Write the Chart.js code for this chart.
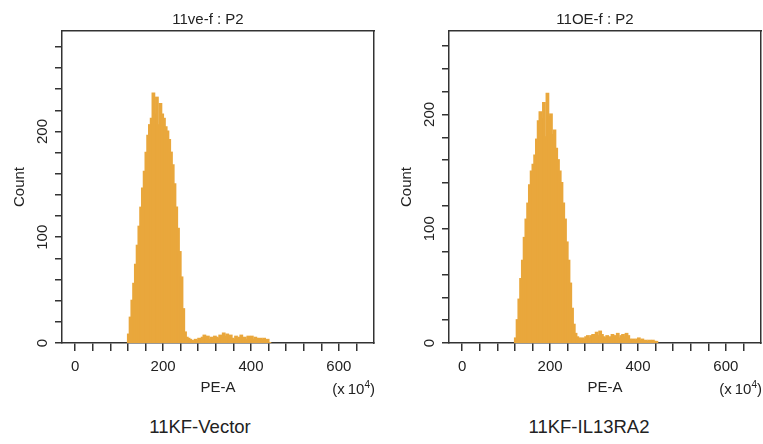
<!DOCTYPE html>
<html>
<head>
<meta charset="utf-8">
<script src="https://cdn.jsdelivr.net/npm/chart.js@4.4.1/dist/chart.umd.min.js"></script>
<style>
    body { margin: 0; background: #fff; font-family: "Liberation Sans", Arial, sans-serif; color: #222; }
    #page { position: relative; width: 763px; height: 444px; overflow: hidden; }
    .panel { position: absolute; top: 0; height: 400px; }
    .lbl { position: absolute; transform: translate(-50%, -50%); white-space: nowrap; }
    .unit { position: absolute; transform: translate(-100%, -50%); font-size: 15px; white-space: nowrap; }
    .unit sup { font-size: 10px; }
</style>
</head>
<body>
<div id="page">
    <div class="panel" style="left:0;width:381px"><canvas id="vectorChart"></canvas></div>
    <div class="panel" style="left:381px;width:382px"><canvas id="oeChart"></canvas></div>

    <div class="lbl" style="left:208px;top:18px;font-size:15px">11ve-f : P2</div>
    <div class="lbl" style="left:595px;top:18px;font-size:15px">11OE-f : P2</div>
    <div class="unit" style="left:375px;top:388px">(x&thinsp;10<sup>4</sup>)</div>
    <div class="unit" style="left:762px;top:388px">(x&thinsp;10<sup>4</sup>)</div>
    <div class="lbl" style="left:200px;top:427px;font-size:18.5px">11KF-Vector</div>
    <div class="lbl" style="left:589px;top:427px;font-size:18.5px">11KF-IL13RA2</div>
</div>

<script>
// histogram bin centres (PE-A, x10^4), bin width 4
const binCenters = [122, 126, 130, 134, 138, 142, 146, 150, 154, 158, 162, 166, 170, 174, 178, 182,
    186, 190, 194, 198, 202, 206, 210, 214, 218, 222, 226, 230, 234, 238, 242, 246, 250, 254, 258,
    262, 266, 270, 274, 278, 282, 286, 290, 294, 298, 302, 306, 310, 314, 318, 322, 326, 330, 334,
    338, 342, 346, 350, 354, 358, 362, 366, 370, 374, 378, 382, 386, 390, 394, 398, 402, 406, 410,
    414, 418, 422, 426, 430, 434, 438, 442];

// counts per bin
const vectorCounts = [8, 24, 40, 56, 74, 92, 110, 128, 146, 162, 180, 196, 206, 212, 236, 216,
    232, 206, 226, 216, 212, 204, 200, 192, 180, 168, 150, 128, 108, 86, 62, 32, 10, 5, 4,
    3, 2, 1, 3, 2, 4, 3, 5, 7, 4, 6, 3, 5, 4, 6, 5, 4, 7, 5,
    9, 6, 8, 5, 7, 4, 3, 6, 4, 5, 7, 4, 5, 3, 6, 4, 6, 3, 5,
    4, 3, 4, 3, 4, 2, 3, 0];

const oeCounts = [4, 20, 38, 56, 72, 92, 108, 122, 138, 150, 156, 164, 178, 194, 202, 196,
    210, 180, 218, 198, 200, 182, 186, 170, 160, 150, 140, 122, 108, 88, 72, 52, 30, 16, 8,
    5, 4, 3, 4, 3, 5, 6, 4, 6, 7, 5, 9, 6, 10, 7, 5, 4, 6, 4,
    5, 7, 6, 5, 8, 4, 6, 7, 5, 8, 6, 3, 2, 3, 2, 3, 4, 2, 3,
    1, 2, 1, 2, 1, 2, 1, 1];

// axis ticks
const xTicks = [0, 40, 80, 120, 160, 200, 240, 280, 320, 360, 400, 440, 480, 520, 560, 600, 640];
const xLabels = [0, 200, 400, 600];
const yTicksVector = [0, 20, 40, 60, 80, 100, 120, 140, 160, 180, 200, 220, 240, 260, 280];
const yTicksOE = [0, 20, 40, 60, 80, 100, 120, 140, 160, 180, 200, 220, 240, 260];
const yLabels = [0, 100, 200];

const ORANGE = '#E9A73C';
const AXIS = '#333';
const TEXT = '#222';
const FONT = "'Liberation Sans', Arial, sans-serif";

function makeHistogram(canvasId, counts, yMax, yTicks, padLeft, padRight) {
    const ctx = document.getElementById(canvasId).getContext('2d');
    const points = binCenters.map((x, i) => ({ x: x, y: counts[i] }));

    const frame = () => ({
        display: true,
        ticks: { display: false },
        grid: { display: false },
        border: { display: true, color: AXIS, width: 1.5 }
    });

    new Chart(ctx, {
        type: 'bar',
        data: {
            datasets: [{
                data: points,
                backgroundColor: ORANGE,
                borderColor: ORANGE,
                borderWidth: 0,
                barPercentage: 1,
                categoryPercentage: 1,
                inflateAmount: 1
            }]
        },
        options: {
            responsive: true,
            maintainAspectRatio: false,
            animation: false,
            layout: { padding: { top: 31, left: padLeft, right: padRight, bottom: 0 } },
            plugins: {
                legend: { display: false },
                tooltip: { enabled: false }
            },
            scales: {
                x: {
                    type: 'linear',
                    offset: false,
                    min: -30,
                    max: 680,
                    afterBuildTicks: s => { s.ticks = xTicks.map(v => ({ value: v })); },
                    afterFit: s => { s.height = 57; },
                    grid: { drawOnChartArea: false, offset: false, tickLength: 8, color: AXIS, lineWidth: 1.5 },
                    border: { display: true, color: AXIS, width: 1.5 },
                    ticks: {
                        autoSkip: false,
                        maxRotation: 0,
                        padding: 7,
                        color: TEXT,
                        font: { size: 15, family: FONT },
                        callback: v => xLabels.includes(v) ? String(v) : ''
                    },
                    title: {
                        display: true,
                        text: 'PE-A',
                        color: TEXT,
                        font: { size: 15, family: FONT },
                        padding: { top: 0, bottom: 3 }
                    }
                },
                y: {
                    type: 'linear',
                    min: 0,
                    max: yMax,
                    afterBuildTicks: s => { s.ticks = yTicks.map(v => ({ value: v })); },
                    afterFit: s => { s.width = 62; },
                    grid: { drawOnChartArea: false, tickLength: 7, color: AXIS, lineWidth: 1.5 },
                    border: { display: true, color: AXIS, width: 1.5 },
                    ticks: {
                        autoSkip: false,
                        minRotation: 90,
                        maxRotation: 90,
                        crossAlign: 'center',
                        padding: 0,
                        color: TEXT,
                        font: { size: 15, family: FONT },
                        callback: v => yLabels.includes(v) ? String(v) : ''
                    },
                    title: {
                        display: true,
                        text: 'Count',
                        color: TEXT,
                        font: { size: 15, family: FONT },
                        padding: { top: 11, bottom: 0 }
                    }
                },
                xTop: Object.assign({ type: 'linear', position: 'top', min: -30, max: 680,
                    afterFit: s => { s.height = 0; } }, frame()),
                yRight: Object.assign({ type: 'linear', position: 'right', min: 0, max: yMax,
                    afterFit: s => { s.width = 0; } }, frame())
            }
        }
    });
}

makeHistogram('vectorChart', vectorCounts, 295, yTicksVector, 0, 7);
makeHistogram('oeChart', oeCounts, 273, yTicksOE, 6, 2);
</script>
</body>
</html>
